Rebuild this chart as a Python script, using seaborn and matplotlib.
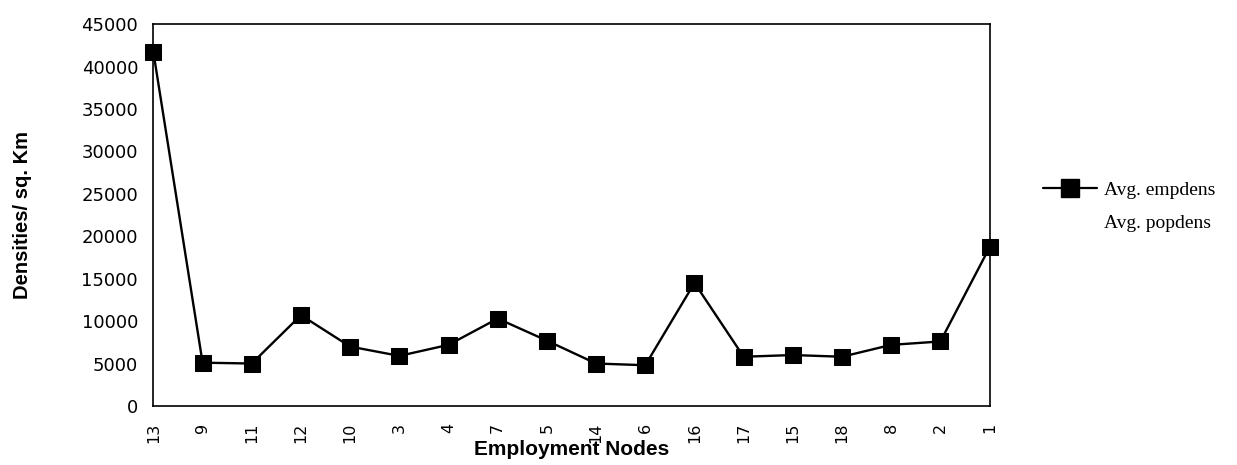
import matplotlib
matplotlib.use("Agg")
import matplotlib.pyplot as plt
import seaborn as sns
import pandas as pd
from matplotlib.lines import Line2D

nodes = ["13", "9", "11", "12", "10", "3", "4", "7", "5", "14", "6", "16", "17", "15", "18", "8", "2", "1"]
empdens = [41700, 5100, 5000, 10700, 7000, 5900, 7200, 10300, 7700, 5000, 4800, 14500, 5800, 6000, 5800, 7200, 7600, 18700]
yticks = [0, 5000, 10000, 15000, 20000, 25000, 30000, 35000, 40000, 45000]
legend_labels = ["Avg. empdens", "Avg. popdens"]

df = pd.DataFrame({"node": nodes, "empdens": empdens})

sns.set_theme(style="white")
plt.rcParams['font.family'] = ['DejaVu Sans']
plt.rcParams.update({"text.color": "black", "axes.labelcolor": "black",
                     "xtick.color": "black", "ytick.color": "black"})

fig = plt.figure(figsize=(12.37, 4.65), dpi=100)
ax = fig.add_axes([0.124, 0.127, 0.676, 0.821])

sns.lineplot(data=df, x="node", y="empdens", sort=False, ax=ax, color="black",
             linewidth=1.7, marker="s", markersize=11.5, markeredgecolor="black",
             markerfacecolor="black", clip_on=False, zorder=5)

ax.set_xlim(0, len(nodes) - 1)
ax.set_ylim(0, 45000)
ax.set_yticks(yticks)
ax.set_yticklabels([str(t) for t in yticks], fontsize=13, family="DejaVu Sans")
ax.tick_params(axis="x", labelrotation=90, labelsize=11.5, length=0, pad=12, colors="black")
ax.tick_params(axis="y", length=0, pad=11, colors="black")

ax.set_xlabel("Employment Nodes", fontsize=15, fontweight="bold", family="Liberation Sans", color="black")
ax.set_ylabel("Densities/ sq. Km", fontsize=14.5, fontweight="bold", family="Liberation Sans", color="black")
ax.xaxis.set_label_coords(0.5, -0.090)
ax.yaxis.set_label_coords(-0.145, 0.5)

for s in ax.spines.values():
    s.set_visible(True)
    s.set_color("black")
    s.set_linewidth(1.2)

handles = [Line2D([0], [0], color="black", marker="s", markersize=12.5, linewidth=1.6),
           Line2D([0], [0], color="white", linewidth=0)]
leg = ax.legend(handles, legend_labels, loc="center left",
                bbox_to_anchor=(1.054, 0.522), frameon=False, handlelength=2.8,
                handletextpad=0.36, borderaxespad=0,
                prop={"family": "Liberation Serif", "size": 14}, labelspacing=0.8)
for t in leg.get_texts():
    t.set_color("black")

fig.savefig("out.png", dpi=100)
